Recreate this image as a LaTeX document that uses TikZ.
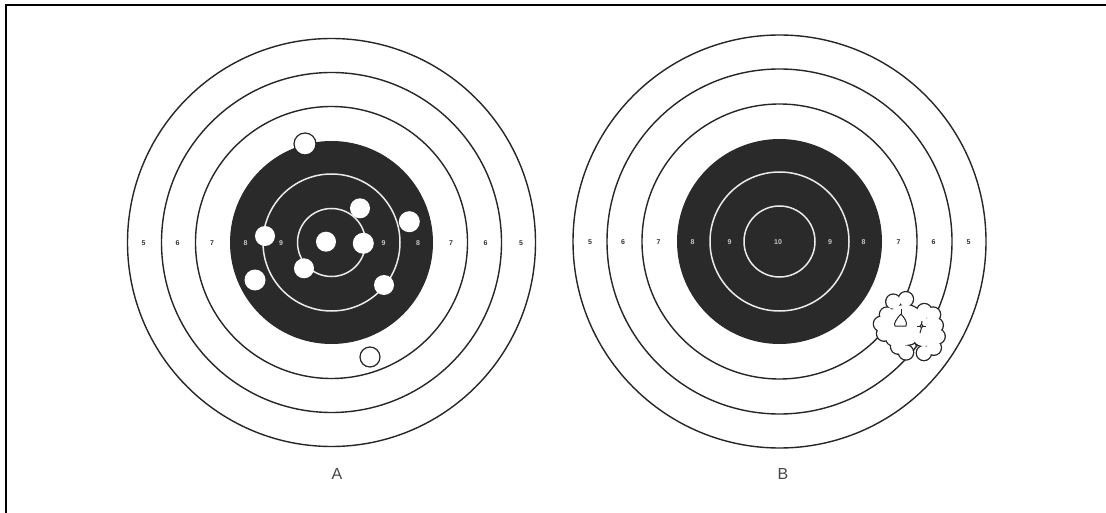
\documentclass[tikz,border=0pt]{standalone}
\usepackage{fontspec}
\setmainfont{Liberation Sans}
\definecolor{ink}{HTML}{262626}
\definecolor{disc}{HTML}{2A2A2A}
\definecolor{numdark}{HTML}{333333}
\definecolor{numlight}{HTML}{C8C8C8}
\begin{document}
\begin{tikzpicture}[x=1pt,y=-1pt,
  ring/.style={draw=ink,line width=1.4pt},
  blackdisc/.style={fill=disc},
  whitering/.style={draw=white!92!black,line width=1.5pt},
  num/.style={inner sep=0pt,font=\fontsize{7}{7}\selectfont\bfseries,text=numdark},
  numw/.style={num,text=numlight},
  hole/.style={fill=white},
  rimhole/.style={fill=white,draw=ink,line width=1.2pt},
  cloudline/.style={draw=ink,line width=2.6pt},
  cloudfill/.style={fill=white},
  scratch/.style={draw=ink,line width=1pt,line join=round},
  caption/.style={inner sep=0pt,font=\fontsize{16}{16}\selectfont,text=ink!85},
  frame/.style={draw=black,line width=1.8pt}
]
\useasboundingbox (0,0) rectangle (1106,513);
\fill[white] (0,0) rectangle (1106,513);
\draw[frame] (5,4.8) -- (1106,4.8);
\draw[frame] (5.8,6) -- (5.8,513);

% ---------- target A ----------
\coordinate (cA) at (331.5,242.5);
\draw[ring] (cA) circle[radius=204pt];
\draw[ring] (cA) circle[radius=170pt];
\draw[ring] (cA) circle[radius=136pt];
\fill[blackdisc] (cA) circle[radius=101.5pt];
\draw[whitering] (cA) circle[radius=68.5pt];
\draw[whitering] (cA) circle[radius=34pt];
\node[num]  (a5l) at (143.5,243) {5};
\node[num]  (a6l) at (177.5,243) {6};
\node[num]  (a7l) at (212,243) {7};
\node[numw] (a8l) at (245.5,243) {8};
\node[numw] (a9l) at (281,243) {9};
\node[numw] (a9r) at (383.5,243) {9};
\node[numw] (a8r) at (418,243) {8};
\node[num]  (a7r) at (451,243) {7};
\node[num]  (a6r) at (485.5,243) {6};
\node[num]  (a5r) at (521,243) {5};
% shots
\fill[hole] (360,208.3) circle[radius=10pt];
\fill[hole] (409.3,221.7) circle[radius=10.5pt];
\fill[hole] (265,236) circle[radius=10pt];
\fill[hole] (326,241.7) circle[radius=10pt];
\fill[hole] (363.3,243.3) circle[radius=10.5pt];
\fill[hole] (304,268.3) circle[radius=10pt];
\fill[hole] (255,280) circle[radius=10.5pt];
\fill[hole] (384,285) circle[radius=10pt];
\draw[rimhole] (305,144) circle[radius=11pt];
\draw[rimhole] (370,357) circle[radius=10pt];
\node[caption] (capA) at (337,474) {A};

% ---------- target B ----------
\coordinate (cB) at (779.5,241.5);
\draw[ring] (cB) circle[radius=206.5pt];
\draw[ring] (cB) circle[radius=172.5pt];
\draw[ring] (cB) circle[radius=137.5pt];
\fill[blackdisc] (cB) circle[radius=102.5pt];
\draw[whitering] (cB) circle[radius=69.5pt];
\draw[whitering] (cB) circle[radius=35.5pt];
\node[num]  (b5l) at (590,241.7) {5};
\node[num]  (b6l) at (623,241.7) {6};
\node[num]  (b7l) at (658.5,241.7) {7};
\node[numw] (b8l) at (692.5,241.7) {8};
\node[numw] (b9l) at (729.5,241.7) {9};
\node[numw] (b10) at (778,241.7) {10};
\node[numw] (b9r) at (830,241.7) {9};
\node[numw] (b8r) at (863.5,241.7) {8};
\node[num]  (b7r) at (898.5,241.7) {7};
\node[num]  (b6r) at (933.5,241.7) {6};
\node[num]  (b5r) at (968.5,241.7) {5};
% shot cluster
\begin{scope}
  \foreach \p/\r in {{(893.3,301.7)}/7,{(905.9,299.2)}/7,{(924.3,311.1)}/7,{(933,314.6)}/7,
                     {(935.7,325.4)}/7,{(937.6,336.4)}/7,{(933.8,347.7)}/7,{(923.9,353)}/7,
                     {(906,352.4)}/7,{(898.1,346.6)}/7,{(893.3,338.3)}/7,{(884.1,333.6)}/7,
                     {(881,323.9)}/7,{(887,314.6)}/7,{(905,325)}/20,{(924,332)}/14}
    {\draw[cloudline] \p circle[radius=\r pt];}
  \foreach \p/\r in {{(893.3,301.7)}/7,{(905.9,299.2)}/7,{(924.3,311.1)}/7,{(933,314.6)}/7,
                     {(935.7,325.4)}/7,{(937.6,336.4)}/7,{(933.8,347.7)}/7,{(923.9,353)}/7,
                     {(906,352.4)}/7,{(898.1,346.6)}/7,{(893.3,338.3)}/7,{(884.1,333.6)}/7,
                     {(881,323.9)}/7,{(887,314.6)}/7,{(905,325)}/20,{(924,332)}/14}
    {\fill[cloudfill] \p circle[radius=\r pt];}
\end{scope}
\draw[scratch] (901,309) -- (901,314);
\draw[scratch] (901,314) .. controls (897,318) and (893,324) .. (895,326)
  -- (906,326) .. controls (908,323) and (904,317) .. (901,314);
\draw[scratch] (921.5,326) circle[radius=1.6pt];
\draw[scratch] (917,326) -- (920,326);
\draw[scratch] (923,326) -- (926,326);
\draw[scratch] (921.5,327.6) -- (920,333);
\draw[scratch] (921.5,324.4) -- (922,321);
\draw[scratch] (914.5,342) -- (916.5,346.5);
\node[caption] (capB) at (783,474) {B};
\end{tikzpicture}
\end{document}
